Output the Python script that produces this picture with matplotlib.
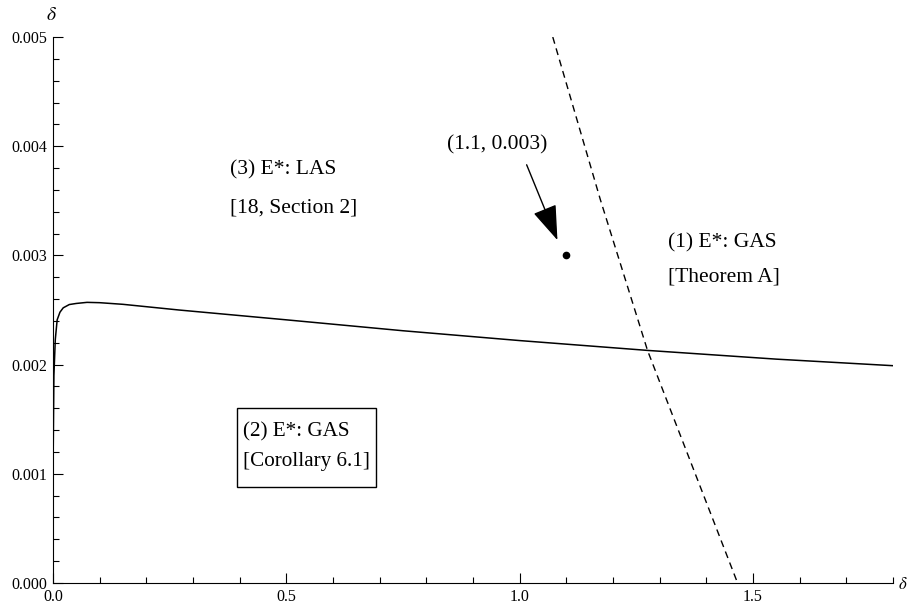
import numpy as np
import matplotlib.pyplot as plt
from matplotlib.patches import Rectangle
from matplotlib.ticker import MultipleLocator, FormatStrFormatter

plt.rcParams['font.family'] = ['Liberation Serif', 'DejaVu Serif']
plt.rcParams['mathtext.fontset'] = 'stix'

# curva contínua (fronteira da região 2)
x_solid = [0.0, 0.0005, 0.002, 0.005, 0.009, 0.015, 0.022, 0.035, 0.05, 0.073,
           0.1, 0.15, 0.27, 0.5, 0.75, 1.0, 1.274, 1.55, 1.8]
y_solid = [0.0, 0.0012, 0.0019, 0.00223, 0.00241, 0.00248, 0.00252, 0.00255,
           0.00256, 0.00257, 0.002567, 0.002552, 0.0025, 0.00241, 0.00231,
           0.00222, 0.00213, 0.00205, 0.00199]

# curva tracejada (fronteira da região 1)
x_dash = [1.071, 1.173, 1.274, 1.315, 1.467]
y_dash = [0.005, 0.00351, 0.00213, 0.001676, 0.0]

pt = (1.1, 0.003)
pt_label = '(1.1, 0.003)'

fig = plt.figure(figsize=(9.1, 6.05), dpi=100)
ax = fig.add_axes([0.0582, 0.0364, 0.9231, 0.9024])

ax.plot(x_solid, y_solid, color='black', lw=1.1)
ax.plot(x_dash, y_dash, color='black', lw=1.0, linestyle=(0, (5, 3.5)))
ax.plot([pt[0]], [pt[1]], 'o', color='black', ms=4.5)

ax.text(0.951, 0.004011, pt_label, fontsize=15.5, ha='center', va='center')
ax.annotate('', xy=(1.081, 0.00314), xytext=(1.015, 0.00383),
            arrowprops=dict(arrowstyle='-|>,head_length=1.0,head_width=0.35',
                            mutation_scale=22, color='black', lw=1,
                            shrinkA=0, shrinkB=0))

ax.text(0.379, 0.003782, '(3) E*: LAS', fontsize=15.5, ha='left', va='center')
ax.text(0.379, 0.003434, '[18, Section 2]', fontsize=15.5, ha='left', va='center')
ax.text(1.317, 0.003114, '(1) E*: GAS', fontsize=15.5, ha='left', va='center')
ax.text(1.317, 0.002801, '[Theorem A]', fontsize=15.5, ha='left', va='center')

# caixa da região 2
ax.add_patch(Rectangle((0.394, 0.000879), 0.298, 0.000724,
                       fill=False, ec='black', lw=1))
ax.text(0.407, 0.001383, '(2) E*: GAS', fontsize=15.2, ha='left', va='center')
ax.text(0.407, 0.001117, '[Corollary 6.1]', fontsize=15.2, ha='left', va='center')

ax.set_xlim(0, 1.8)
ax.set_ylim(0, 0.005)
ax.spines['top'].set_visible(False)
ax.spines['right'].set_visible(False)
ax.xaxis.set_major_locator(MultipleLocator(0.5))
ax.xaxis.set_minor_locator(MultipleLocator(0.1))
ax.yaxis.set_major_locator(MultipleLocator(0.001))
ax.yaxis.set_minor_locator(MultipleLocator(0.0002))
ax.xaxis.set_major_formatter(FormatStrFormatter('%.1f'))
ax.yaxis.set_major_formatter(FormatStrFormatter('%.3f'))
ax.tick_params(which='both', direction='in', labelsize=11.5, width=0.8)
ax.tick_params(which='major', length=7, pad=4)
ax.tick_params(which='minor', length=4)

fig.text(51 / 910, 1 - 15 / 605, r'$\delta$', fontsize=14, ha='center', va='center')
fig.text(898 / 910, 1 - 585 / 605, r'$\delta$', fontsize=12, ha='left', va='center')

fig.savefig('out.png', dpi=100)
